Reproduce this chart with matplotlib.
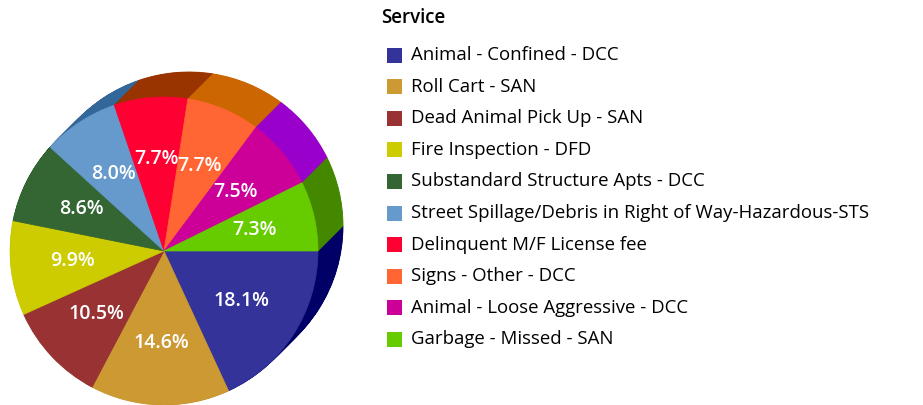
import numpy as np
import matplotlib
matplotlib.use('Agg')
from matplotlib import pyplot as plt
from matplotlib.patches import Rectangle

plt.rcParams['font.family'] = ['Open Sans', 'DejaVu Sans']

services = ['Animal - Confined - DCC', 'Roll Cart - SAN', 'Dead Animal Pick Up - SAN',
            'Fire Inspection - DFD', 'Substandard Structure Apts - DCC',
            'Street Spillage/Debris in Right of Way-Hazardous-STS',
            'Delinquent M/F License fee', 'Signs - Other - DCC',
            'Animal - Loose Aggressive - DCC', 'Garbage - Missed - SAN']
shares = [18.1, 14.6, 10.5, 9.9, 8.6, 8.0, 7.7, 7.7, 7.5, 7.3]
top_colors = ['#333399', '#CC9933', '#993333', '#CCCC00', '#336633',
              '#6699CC', '#FF0033', '#FF6633', '#CC0099', '#66CC00']
side_colors = ['#000066', '#996600', '#660000', '#999900', '#003300',
               '#336699', '#993300', '#CC6600', '#9900CC', '#448800']

W, H = 923, 405
fig = plt.figure(figsize=(W / 100, H / 100), dpi=100)
ax = fig.add_axes([0, 0, 1, 1])

cx, cy, r = 164, H - 251, 154
depth_x, depth_y = 25, 25

# side wall: stacked copies of the pie pushed back up-right
steps = 50
for k in range(steps, 0, -1):
    f = k / steps
    ax.pie(shares, colors=side_colors, startangle=0, counterclock=False,
           center=(cx + depth_x * f, cy + depth_y * f), radius=r, frame=True,
           wedgeprops=dict(linewidth=0.6))
for w in ax.patches:
    w.set_edgecolor(w.get_facecolor())

wedges, texts, autotexts = ax.pie(
    shares, colors=top_colors, startangle=0, counterclock=False,
    center=(cx, cy), radius=r, frame=True,
    autopct='%1.1f%%', pctdistance=0.6,
    wedgeprops=dict(linewidth=0.5),
    textprops=dict(color='white', fontsize=14, fontweight='semibold'))
for w in wedges:
    w.set_edgecolor(w.get_facecolor())

ax.set_xlim(0, W)
ax.set_ylim(0, H)
ax.set_aspect('equal')
ax.axis('off')

# legend
ax.text(381, H - 18, 'Service', fontsize=13.5, fontweight='semibold',
        color='black', va='center', ha='left')
row0, gap = 55, 31.6
for i, (name, c) in enumerate(zip(services, top_colors)):
    y = H - (row0 + i * gap)
    ax.add_patch(Rectangle((387, y - 7.5), 15, 15, facecolor=c, edgecolor='none'))
    ax.text(411, y, name, fontsize=13.4, fontweight='medium', color='black',
            va='center', ha='left')

fig.savefig('out.png', dpi=100)
